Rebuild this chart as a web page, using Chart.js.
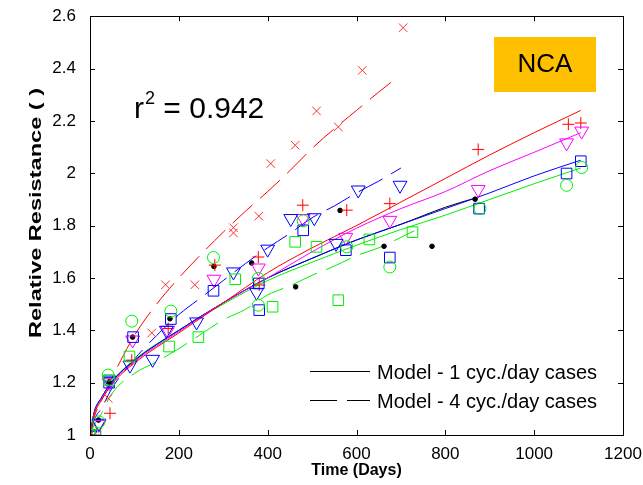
<!DOCTYPE html>
<html><head><meta charset="utf-8">
<script src="https://cdn.jsdelivr.net/npm/chart.js@4"></script>
<style>html,body{margin:0;padding:0;background:#fff}</style>
</head><body>
<canvas id="c" width="643" height="485"></canvas>
<script>
// ---------- data ----------
const xTicks = [0, 200, 400, 600, 800, 1000, 1200];
const yTicks = [1, 1.2, 1.4, 1.6, 1.8, 2, 2.2, 2.4, 2.6];

// measured points
const redPlusDays = [0, 12, 45, 94, 176, 281, 379, 381, 479, 578, 675, 874, 1077, 1105];
const redPlusVals = [1.0, 1.0, 1.083, 1.286, 1.407, 1.649, 1.68, 1.573, 1.878, 1.859, 1.884, 2.091, 2.187, 2.192];

const redXDays = [0, 41, 139, 170, 236, 323, 323, 380, 407, 462, 510, 559, 613, 705];
const redXVals = [1.0, 1.14, 1.39, 1.574, 1.574, 1.792, 1.772, 1.836, 2.037, 2.107, 2.238, 2.177, 2.393, 2.556];

const magentaDays = [0, 20, 43, 96, 175, 279, 379, 480, 576, 675, 874, 1073, 1107];
const magentaVals = [1.0, 1.04, 1.2, 1.363, 1.40, 1.595, 1.638, 1.827, 1.755, 1.82, 1.938, 2.116, 2.161];

const blueSqDays = [0, 12, 43, 97, 182, 278, 380, 381, 480, 576, 675, 876, 1073, 1105];
const blueSqVals = [1.0, 1.0, 1.2, 1.374, 1.443, 1.551, 1.579, 1.477, 1.782, 1.706, 1.678, 1.865, 1.999, 2.046];

const greenCircDays = [0, 20, 41, 94, 182, 278, 379, 379, 480, 578, 675, 878, 1073, 1107];
const greenCircVals = [1.0, 1.05, 1.229, 1.435, 1.473, 1.678, 1.598, 1.496, 1.818, 1.719, 1.642, 1.865, 1.954, 2.022];

const blueTriDays = [0, 20, 43, 90, 141, 172, 240, 323, 375, 400, 452, 505, 554, 604, 698];
const blueTriVals = [1.0, 1.045, 1.21, 1.267, 1.289, 1.40, 1.432, 1.623, 1.545, 1.71, 1.827, 1.83, 1.732, 1.936, 1.954];

const greenSqDays = [0, 12, 43, 89, 178, 244, 327, 411, 462, 510, 559, 629, 726];
const greenSqVals = [1.0, 1.0, 1.21, 1.30, 1.338, 1.374, 1.595, 1.49, 1.738, 1.719, 1.515, 1.747, 1.775];

const blackDays = [0, 19, 43, 96, 180, 279, 364, 463, 563, 662, 770, 867];
const blackVals = [1.0, 1.057, 1.203, 1.374, 1.444, 1.644, 1.657, 1.566, 1.858, 1.721, 1.721, 1.901];

// model curves, 1 cyc./day (solid)
const model1Days = [0, 10, 25, 50, 100, 200, 300, 400, 500, 600, 700, 800, 900, 1000, 1105];
const model1Red = [1.0, 1.08, 1.13, 1.195, 1.275, 1.39, 1.505, 1.62, 1.715, 1.80, 1.89, 1.98, 2.07, 2.155, 2.24];
const model1Magenta = [1.0, 1.085, 1.135, 1.2, 1.28, 1.395, 1.505, 1.60, 1.70, 1.79, 1.865, 1.93, 2.01, 2.08, 2.155];
const model1Blue = [1.0, 1.09, 1.14, 1.205, 1.285, 1.40, 1.505, 1.60, 1.675, 1.745, 1.805, 1.865, 1.925, 1.99, 2.05];
const model1Green = [1.0, 1.09, 1.14, 1.205, 1.288, 1.40, 1.50, 1.59, 1.66, 1.725, 1.785, 1.84, 1.90, 1.96, 2.02];
const model1BlackDays = [0, 10, 25, 50, 100, 200, 300, 400, 500, 600, 700, 800, 867];
const model1Black = [1.0, 1.09, 1.14, 1.205, 1.285, 1.40, 1.505, 1.60, 1.675, 1.745, 1.805, 1.87, 1.905];

// model curves, 4 cyc./day (dashed)
const model4RedDays = [0, 10, 25, 50, 100, 150, 200, 250, 300, 350, 400, 450, 500, 550, 600, 650, 690];
const model4Red = [1.0, 1.07, 1.13, 1.22, 1.38, 1.50, 1.60, 1.69, 1.775, 1.855, 1.93, 2.01, 2.095, 2.17, 2.24, 2.31, 2.364];
const model4BlueDays = [0, 10, 25, 50, 100, 150, 200, 250, 300, 350, 400, 450, 500, 550, 600, 650, 700];
const model4Blue = [1.0, 1.06, 1.10, 1.18, 1.29, 1.38, 1.46, 1.525, 1.59, 1.655, 1.715, 1.77, 1.83, 1.875, 1.925, 1.97, 2.02];
const model4GreenDays = [0, 10, 25, 50, 100, 150, 200, 250, 300, 350, 400, 450, 500, 550, 600, 650, 700, 730];
const model4Green = [1.0, 1.04, 1.08, 1.16, 1.235, 1.28, 1.33, 1.385, 1.44, 1.48, 1.535, 1.57, 1.61, 1.645, 1.685, 1.715, 1.755, 1.78];

const legendLabels = ['Model - 1 cyc./day cases', 'Model - 4 cyc./day cases'];
const xTitle = 'Time (Days)';
const yTitle = 'Relative Resistance ( )';
const boxLabel = 'NCA';
const r2Value = '0.942';

// ---------- build ----------
const pts = (xs, ys) => xs.map((x, i) => ({x: x, y: ys[i]}));
const FONT = "'Liberation Sans', Arial, sans-serif";

function curve(xs, ys, color, dashed) {
  return {type: 'line', data: pts(xs, ys), borderColor: color, borderWidth: 1, pointRadius: 0,
    showLine: true, fill: false, cubicInterpolationMode: 'monotone', borderDash: dashed ? [27, 10] : [], order: 2};
}
function marks(xs, ys, color, style, r, rot, fillBlack) {
  return {type: 'scatter', data: pts(xs, ys), borderColor: color, backgroundColor: fillBlack ? color : 'rgba(0,0,0,0)',
    pointStyle: style, pointRadius: r, pointBorderWidth: 1, pointRotation: rot || 0, showLine: false, order: 1};
}

const datasets = [
  curve(model1Days, model1Red, '#ff0000', false),
  curve(model1Days, model1Magenta, '#ff00ff', false),
  curve(model1Days, model1Blue, '#0000ff', false),
  curve(model1Days, model1Green, '#00ee00', false),
  curve(model1BlackDays, model1Black, '#000000', false),
  curve(model4RedDays, model4Red, '#ff0000', true),
  curve(model4BlueDays, model4Blue, '#0000ff', true),
  curve(model4GreenDays, model4Green, '#00ee00', true),
  marks(greenSqDays, greenSqVals, '#00ee00', 'rect', 7.5),
  marks(greenCircDays, greenCircVals, '#00ee00', 'circle', 6),
  marks(blueSqDays, blueSqVals, '#0000ff', 'rect', 7.5),
  marks(blueTriDays, blueTriVals, '#0000ff', 'triangle', 8, 180),
  marks(magentaDays, magentaVals, '#ff00ff', 'triangle', 8, 180),
  marks(redXDays, redXVals, '#ff3030', 'crossRot', 6),
  marks(redPlusDays, redPlusVals, '#ff0000', 'cross', 6),
  marks(blackDays, blackVals, '#000000', 'circle', 2.3, 0, true)
];

const decor = {
  id: 'decor',
  afterDraw(chart) {
    const ctx = chart.ctx, a = chart.chartArea, xs = chart.scales.x, ys = chart.scales.y;
    ctx.save();
    ctx.strokeStyle = '#000'; ctx.lineWidth = 1;
    ctx.strokeRect(Math.round(a.left) + 0.5, Math.round(a.top) + 0.5, Math.round(a.right - a.left), Math.round(a.bottom - a.top));
    ctx.beginPath();
    xTicks.forEach(v => { const p = Math.round(xs.getPixelForValue(v)) + 0.5;
      ctx.moveTo(p, a.bottom); ctx.lineTo(p, a.bottom - 5); ctx.moveTo(p, a.top); ctx.lineTo(p, a.top + 5); });
    yTicks.forEach(v => { const p = Math.round(ys.getPixelForValue(v)) + 0.5;
      ctx.moveTo(a.left, p); ctx.lineTo(a.left + 5, p); ctx.moveTo(a.right, p); ctx.lineTo(a.right - 5, p); });
    ctx.stroke();

    // axis titles
    ctx.fillStyle = '#000';
    ctx.font = 'bold 16px ' + FONT; ctx.textAlign = 'center'; ctx.textBaseline = 'middle';
    ctx.fillText(xTitle, (a.left + a.right) / 2, 471);
    ctx.save(); ctx.translate(37, 213); ctx.rotate(-Math.PI / 2);
    ctx.font = 'bold 16px ' + FONT;
    const w = ctx.measureText(yTitle).width;
    ctx.scale(250 / w, 1);
    ctx.fillText(yTitle, 0, 0); ctx.restore();

    // r^2 annotation
    ctx.textAlign = 'left'; ctx.textBaseline = 'alphabetic';
    ctx.font = '30px ' + FONT;
    let x = 134; ctx.fillText('r', x, 118); x += ctx.measureText('r').width;
    ctx.font = '18px ' + FONT; ctx.fillText('2', x + 1, 104); x += ctx.measureText('2').width + 1;
    ctx.font = '30px ' + FONT; ctx.fillText(' = ' + r2Value, x, 118);

    // NCA box
    ctx.fillStyle = '#ffc000'; ctx.fillRect(494, 37, 102, 55);
    ctx.fillStyle = '#000'; ctx.font = '26px ' + FONT; ctx.textAlign = 'center'; ctx.textBaseline = 'middle';
    ctx.fillText(boxLabel, 545, 65);

    // legend
    ctx.lineWidth = 1; ctx.strokeStyle = '#000';
    ctx.beginPath(); ctx.moveTo(310, 371.5); ctx.lineTo(370, 371.5); ctx.stroke();
    ctx.setLineDash([27, 10]); ctx.beginPath(); ctx.moveTo(310, 400.5); ctx.lineTo(370, 400.5); ctx.stroke(); ctx.setLineDash([]);
    ctx.font = '20px ' + FONT; ctx.textAlign = 'left'; ctx.textBaseline = 'alphabetic';
    ctx.fillText(legendLabels[0], 377, 379);
    ctx.fillText(legendLabels[1], 377, 408);
    ctx.restore();
  }
};

new Chart(document.getElementById('c'), {
  type: 'scatter',
  data: {datasets: datasets},
  options: {
    responsive: false, animation: false, devicePixelRatio: 1,
    layout: {padding: {top: 16, right: 20, left: 0, bottom: 0}},
    plugins: {legend: {display: false}, tooltip: {enabled: false}},
    scales: {
      x: {type: 'linear', min: 0, max: 1200,
        afterBuildTicks: s => { s.ticks = xTicks.map(v => ({value: v})); },
        afterFit: s => { s.height = 50; },
        grid: {display: false}, border: {display: false},
        ticks: {color: '#000', font: {family: FONT, size: 17}, padding: 1, maxRotation: 0, autoSkip: false,
          callback: v => String(v)}},
      y: {type: 'linear', min: 1, max: 2.6,
        afterBuildTicks: s => { s.ticks = yTicks.map(v => ({value: v})); },
        afterFit: s => { s.width = 90; },
        grid: {display: false}, border: {display: false},
        ticks: {color: '#000', font: {family: FONT, size: 17}, padding: 6, autoSkip: false,
          callback: v => String(+(+v).toFixed(1))}}
    }
  },
  plugins: [decor]
});
</script>
</body></html>
